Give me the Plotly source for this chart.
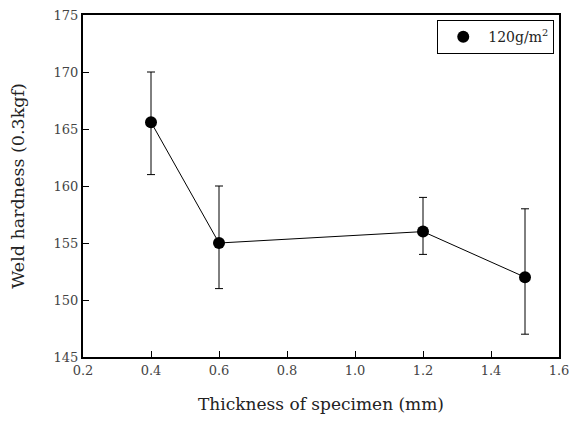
import plotly.graph_objects as go

thickness = [0.4, 0.6, 1.2, 1.5]
hardness = [165.6, 155.0, 156.0, 152.0]
err_plus = [4.4, 5.0, 3.0, 6.0]
err_minus = [4.6, 4.0, 2.0, 5.0]
x_ticks = [0.2, 0.4, 0.6, 0.8, 1.0, 1.2, 1.4, 1.6]
x_tick_labels = ["0.2", "0.4", "0.6", "0.8", "1.0", "1.2", "1.4", "1.6"]
y_ticks = [145, 150, 155, 160, 165, 170, 175]
series_name = "120g/m<sup>2</sup>"

font_family = "DejaVu Serif, Liberation Serif, serif"

fig = go.Figure()
fig.add_trace(go.Scatter(
    x=thickness, y=hardness, mode="lines+markers",
    name=series_name, showlegend=False,
    line=dict(color="black", width=1),
    marker=dict(color="black", size=12),
    error_y=dict(type="data", symmetric=False, array=err_plus, arrayminus=err_minus,
                 color="black", thickness=1, width=4),
))
# legend entry (marker only, as in the reference)
fig.add_trace(go.Scatter(
    x=[None], y=[None], mode="markers", name=series_name,
    marker=dict(color="black", size=12),
))

axis_common = dict(
    showline=True, linecolor="black", linewidth=2, mirror=True,
    ticks="inside", ticklen=6, tickcolor="black", tickwidth=1,
    showgrid=False, zeroline=False, automargin=False,
    ticklabeloverflow="allow",
    tickfont=dict(family=font_family, size=13, color="#444"),
)

fig.update_layout(
    width=569, height=425,
    margin=dict(l=83, r=10, t=15, b=68),
    paper_bgcolor="white", plot_bgcolor="white",
    font=dict(family=font_family, color="#222"),
    showlegend=True,
    legend=dict(x=0.99, y=0.985, xanchor="right", yanchor="top",
                bordercolor="black", borderwidth=1, bgcolor="white",
                itemwidth=40,
                font=dict(family=font_family, size=14, color="#222")),
    xaxis=dict(range=[0.2, 1.6], tickvals=x_ticks, ticktext=x_tick_labels,
               title=dict(text="Thickness of specimen (mm)", standoff=22,
                          font=dict(family=font_family, size=17)),
               **axis_common),
    yaxis=dict(range=[145, 175], tickvals=y_ticks,
               title=dict(text="Weld hardness (0.3kgf)", standoff=24,
                          font=dict(family=font_family, size=17.5)),
               **axis_common),
)

fig.write_html("out.html")
